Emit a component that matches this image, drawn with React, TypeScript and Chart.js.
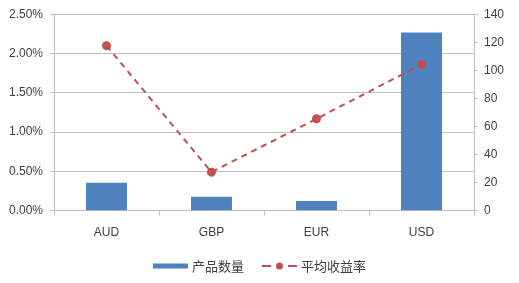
import React, { useEffect, useRef } from "react";
import { Chart, registerables } from "chart.js";

Chart.register(...registerables);

const categories = ["AUD", "GBP", "EUR", "USD"];
const productCounts = [20, 10, 7, 127];
const avgYields = [2.1, 0.49, 1.17, 1.86];
const barLabel = "产品数量";
const lineLabel = "平均收益率";

const BAR_COLOR = "#4f81bd";
const LINE_COLOR = "#c0504d";
const GRID = "#bfbfbf";
const TEXT = "#404040";
const FONT = "'Liberation Sans', 'Noto Sans CJK SC', sans-serif";

const legendPlugin = {
  id: "customLegend",
  afterDraw(chart: any) {
    const ctx = chart.ctx;
    ctx.save();
    ctx.font = "13px 'Noto Sans CJK SC', sans-serif";
    ctx.textBaseline = "middle";
    const y = 266;
    const sw = 35;
    const gap = 4;
    const itemGap = 18;
    const w1 = sw + gap + ctx.measureText(barLabel).width;
    const w2 = sw + gap + ctx.measureText(lineLabel).width;
    let x = (chart.width - (w1 + itemGap + w2)) / 2;
    ctx.fillStyle = BAR_COLOR;
    ctx.fillRect(x, y - 2.5, sw, 5);
    ctx.fillStyle = TEXT;
    ctx.fillText(barLabel, x + sw + gap, y);
    x += w1 + itemGap;
    ctx.strokeStyle = LINE_COLOR;
    ctx.lineWidth = 2;
    ctx.beginPath();
    ctx.moveTo(x, y);
    ctx.lineTo(x + 9, y);
    ctx.moveTo(x + sw - 9, y);
    ctx.lineTo(x + sw, y);
    ctx.stroke();
    ctx.fillStyle = LINE_COLOR;
    ctx.beginPath();
    ctx.arc(x + sw / 2, y, 3.5, 0, Math.PI * 2);
    ctx.fill();
    ctx.fillStyle = TEXT;
    ctx.fillText(lineLabel, x + sw + gap, y);
    ctx.restore();
  },
};

export default function App() {
  const ref = useRef<HTMLCanvasElement>(null);
  useEffect(() => {
    document.body.style.margin = "0";
    const chart = new Chart(ref.current!, {
      type: "bar",
      data: {
        labels: categories,
        datasets: [
          {
            type: "line",
            label: lineLabel,
            data: avgYields,
            yAxisID: "yL",
            borderColor: LINE_COLOR,
            backgroundColor: LINE_COLOR,
            borderWidth: 2,
            borderDash: [6, 5],
            pointRadius: 3.5,
            pointBackgroundColor: LINE_COLOR,
            pointBorderColor: LINE_COLOR,
            tension: 0,
            order: 0,
          } as any,
          {
            type: "bar",
            label: barLabel,
            data: productCounts,
            yAxisID: "yR",
            backgroundColor: BAR_COLOR,
            barPercentage: 0.39,
            categoryPercentage: 1,
            order: 1,
          },
        ],
      },
      options: {
        animation: false,
        responsive: false,
        layout: { padding: { top: 13, left: 0, right: 0, bottom: 0 } },
        plugins: { legend: { display: false }, tooltip: { enabled: false } },
        scales: {
          x: {
            grid: { display: true, drawOnChartArea: false, offset: true, tickLength: 5, color: GRID },
            border: { display: true, color: GRID },
            ticks: { color: TEXT, font: { family: FONT, size: 12 }, padding: 10, maxRotation: 0 },
            afterFit(s: any) { s.height = 72.3; },
          },
          yL: {
            position: "left",
            min: 0,
            max: 2.5,
            ticks: {
              stepSize: 0.5,
              color: TEXT,
              font: { family: FONT, size: 12 },
              padding: 7,
              callback: (v: any) => Number(v).toFixed(2) + "%",
            },
            grid: { color: GRID, tickLength: 4 },
            border: { display: true, color: GRID },
            afterFit(s: any) { s.width = 54; },
          },
          yR: {
            position: "right",
            min: 0,
            max: 140,
            ticks: { stepSize: 20, color: TEXT, font: { family: FONT, size: 12 }, padding: 6 },
            grid: { drawOnChartArea: false, color: GRID, tickLength: 4 },
            border: { display: true, color: GRID },
            afterFit(s: any) { s.width = 45; },
          },
        },
      },
      plugins: [legendPlugin],
    });
    return () => chart.destroy();
  }, []);
  return <canvas ref={ref} width={519} height={283} style={{ display: "block" }} />;
}
